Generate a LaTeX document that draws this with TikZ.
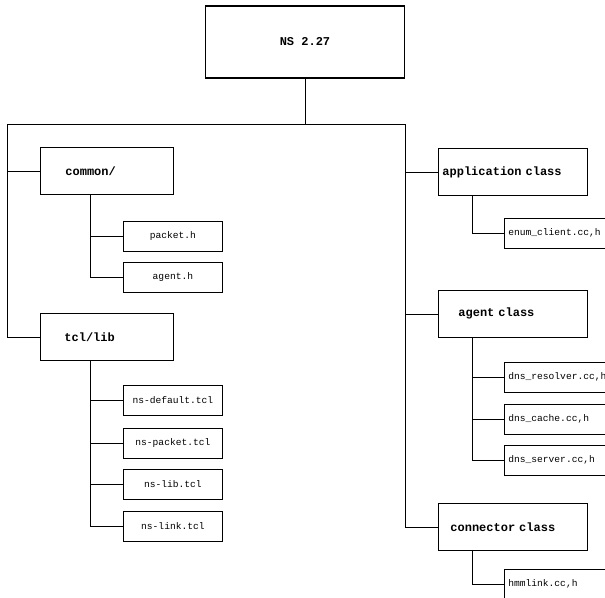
\documentclass[tikz,border=0pt]{standalone}
\usepackage{fontspec}
\usepackage{tikz}
\usetikzlibrary{positioning}
\newfontfamily\treemono{Liberation Mono}
\newcommand{\filefont}{\treemono\fontsize{9.6}{11}\selectfont}
\newcommand{\dirfont}{\treemono\bfseries\fontsize{12}{14}\selectfont}

\begin{document}
\begin{tikzpicture}[
  x=1pt, y=-1pt,
  line width=0.8pt,
  every node/.style={text=black},
  rootbox/.style={draw, line width=1.7pt, minimum width=199pt, minimum height=72pt, font=\dirfont},
  dirbox/.style={draw, anchor=north west, minimum height=47pt, align=left, inner ysep=0pt, font=\dirfont},
  filebox/.style={draw, anchor=west, minimum width=99pt, minimum height=30pt, inner sep=0pt, font=\filefont},
  rfilebox/.style={draw, anchor=west, minimum height=30pt, text width=107pt, inner xsep=4pt, inner ysep=0pt, align=left, font=\filefont}
]
\useasboundingbox (0,0) rectangle (605,597);
\clip (0,0) rectangle (605,597);

\node[rootbox] (ns) at (305,42) {NS 2.27};

% left column
\node[dirbox, text width=83pt, inner xsep=25pt] (common) at (40,147) {common/};
\node[filebox] (packet) at (123,236) {packet.h};
\node[filebox] (agenth) at (123,277) {agent.h};

\node[dirbox, text width=85pt, inner xsep=24pt] (tcllib) at (40,313) {tcl/lib};
\node[filebox] (nsdefault) at (123,400) {ns-default.tcl};
\node[filebox] (nspacket)  at (123,443) {ns-packet.tcl};
\node[filebox] (nslib)     at (123,484) {ns-lib.tcl};
\node[filebox] (nslink)    at (123,526) {ns-link.tcl};

% right column
\node[dirbox, text width=141pt, inner xsep=4pt] (app) at (438,148) {application class};
\node[rfilebox] (enumclient) at (504,233) {enum\_client.cc,h};

\node[dirbox, text width=109pt, inner xsep=20pt] (agent) at (438,290) {agent class};
\node[rfilebox] (resolver) at (504,377) {dns\_resolver.cc,h};
\node[rfilebox] (cache)    at (504,419) {dns\_cache.cc,h};
\node[rfilebox] (server)   at (504,460) {dns\_server.cc,h};

\node[dirbox, text width=125pt, inner xsep=12pt] (connector) at (438,503) {connector class};
\node[rfilebox] (hmmlink) at (504,584) {hmmlink.cc,h};

\coordinate (bus) at (305,124);
\coordinate (lrail) at (7,124);
\coordinate (rrail) at (405,124);

\draw (ns.south) -- (bus);
\draw (rrail) -- (lrail) |- (tcllib.west);
\draw (lrail) |- (common.west);
\draw (rrail) |- (connector.west);
\draw (rrail) |- (app.west);
\draw (rrail) |- (agent.west);

\draw ([xshift=50pt]common.south west) |- (agenth.west);
\draw ([xshift=50pt]common.south west) |- (packet.west);

\draw ([xshift=50pt]tcllib.south west) |- (nslink.west);
\draw ([xshift=50pt]tcllib.south west) |- (nsdefault.west);
\draw ([xshift=50pt]tcllib.south west) |- (nspacket.west);
\draw ([xshift=50pt]tcllib.south west) |- (nslib.west);

\draw ([xshift=34pt]app.south west) |- (enumclient.west);

\draw ([xshift=34pt]agent.south west) |- (server.west);
\draw ([xshift=34pt]agent.south west) |- (resolver.west);
\draw ([xshift=34pt]agent.south west) |- (cache.west);

\draw ([xshift=34pt]connector.south west) |- (hmmlink.west);

\end{tikzpicture}
\end{document}
